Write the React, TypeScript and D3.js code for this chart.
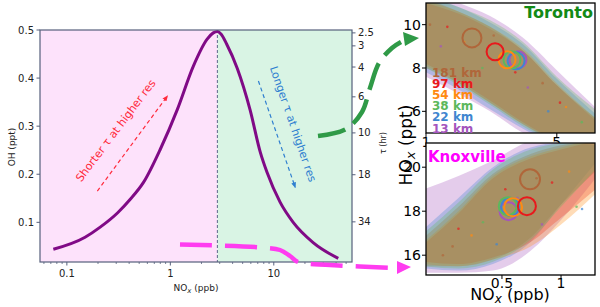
import * as d3 from "d3";

const FONT = "DejaVu Sans, sans-serif";

// ---- left panel: OH against NOx ----
const noxVals = [0.074, 0.15, 0.21, 0.31, 0.41, 0.55, 0.8, 1.17, 1.67, 2.27, 2.6, 2.85, 3.1, 3.5, 4.44, 5.9, 7.4, 8.6, 11.5, 15.4, 24, 42];
const ohVals = [0.044, 0.069, 0.09, 0.12, 0.148, 0.183, 0.252, 0.335, 0.425, 0.481, 0.494, 0.497, 0.491, 0.471, 0.42, 0.334, 0.246, 0.204, 0.142, 0.1, 0.058, 0.025];
const noxSplit = 2.85;
const ohTicks = [0.1, 0.2, 0.3, 0.4, 0.5];
const noxTicks = [0.1, 1, 10];
const noxMinor = [0.06, 0.07, 0.08, 0.09, 0.2, 0.3, 0.4, 0.5, 0.6, 0.7, 0.8, 0.9, 2, 3, 4, 5, 6, 7, 8, 9, 20, 30, 40, 50];
const tauLabels = ["2.5", "3", "4", "6", "10", "18", "34"];
const tauAtOH = [0.494, 0.467, 0.423, 0.361, 0.286, 0.199, 0.101];

// ---- right panels: HOx against NOx by resolution ----
const resLabels = ["181 km", "97 km", "54 km", "38 km", "22 km", "13 km"];
const resColors = ["#b0663a", "#e8191c", "#ff8a12", "#5cb85c", "#3f86d0", "#a455bd"];
const drawOrder = [5, 4, 1, 2, 0, 3];

const torGrid = [1, 1.5, 2.2, 3.3, 5, 8];
const torUpper = [
  [11.2, 10.6, 9.9, 8.8, 7.2, 5.7],
  [11.0, 10.5, 9.8, 8.8, 7.2, 5.6],
  [11.1, 10.6, 9.9, 8.9, 7.3, 5.7],
  [11.3, 10.8, 10.2, 9.2, 7.6, 6.1],
  [11.3, 10.8, 10.1, 9.1, 7.5, 5.9],
  [11.5, 11.0, 10.4, 9.4, 7.9, 6.2],
];
const torLower = [
  [8.0, 7.3, 6.4, 5.4, 4.5, 3.5],
  [8.2, 7.4, 6.5, 5.5, 4.6, 3.6],
  [8.1, 7.3, 6.4, 5.4, 4.6, 3.6],
  [8.0, 7.2, 6.3, 5.3, 4.5, 3.5],
  [7.8, 7.0, 6.1, 5.2, 4.4, 3.4],
  [7.6, 6.8, 6.0, 5.0, 4.3, 3.3],
];
const torMeanNox = [1.76, 2.34, 2.71, 2.88, 3.03, 3.1];
const torMeanHox = [9.39, 8.75, 8.38, 8.38, 8.33, 8.38];
const torDotNox = [1.05, 1.3, 1.6, 2.0, 2.6, 3.5, 4.2, 5.2, 5.6, 6.8, 4.5, 1.2, 2.3, 3.0];
const torDotHox = [10.0, 9.9, 9.2, 8.0, 8.6, 7.1, 7.3, 6.4, 6.2, 5.5, 6.0, 9.0, 9.5, 7.8];

const knxGrid = [0.2, 0.3, 0.45, 0.7, 1.0, 1.5];
const knxUpper = [
  [16.8, 18.2, 19.7, 20.6, 21.0, 21.2],
  [16.5, 17.9, 19.5, 20.4, 20.8, 21.2],
  [16.6, 18.0, 19.6, 20.5, 20.9, 21.3],
  [17.0, 18.4, 19.9, 20.8, 21.1, 21.2],
  [17.2, 18.6, 20.0, 20.9, 21.1, 21.0],
  [19.0, 19.6, 20.3, 21.2, 21.4, 21.5],
];
const knxLower = [
  [15.5, 15.5, 15.8, 16.8, 18.3, 19.8],
  [15.7, 15.6, 15.9, 16.6, 17.7, 19.0],
  [15.6, 15.5, 15.8, 16.4, 17.4, 18.8],
  [15.5, 15.4, 15.7, 16.7, 18.2, 19.9],
  [15.4, 15.3, 15.6, 16.6, 18.3, 20.2],
  [15.2, 15.2, 15.3, 16.2, 17.6, 19.5],
];
const knxMeanNox = [0.695, 0.67, 0.57, 0.535, 0.55, 0.54];
const knxMeanHox = [19.45, 18.23, 18.18, 18.23, 18.2, 18.0];
const knxDotNox = [0.25, 0.3, 0.35, 0.4, 0.47, 0.6, 0.75, 0.9, 1.1, 1.2, 1.28, 0.8, 0.28, 0.52];
const knxDotHox = [16.0, 17.2, 16.9, 17.5, 16.5, 18.6, 19.5, 19.3, 19.8, 18.2, 18.1, 17.4, 16.4, 19.0];

type PanelProps = {
  id: string;
  x: d3.ScaleLogarithmic<number, number>;
  y: d3.ScaleLinear<number, number>;
  grid: number[];
  upper: number[][];
  lower: number[][];
  meanX: number[];
  meanY: number[];
  dotX: number[];
  dotY: number[];
  xTicks: number[];
  yTicks: number[];
  ringR: number;
};

function Panel(p: PanelProps) {
  const [x0, x1] = p.x.range();
  const [y0, y1] = p.y.range();
  return (
    <g>
      <defs>
        <clipPath id={p.id}>
          <rect x={x0} y={y1} width={x1 - x0} height={y0 - y1} />
        </clipPath>
      </defs>
      <rect x={x0} y={y1} width={x1 - x0} height={y0 - y1} fill="#fff" />
      <g clipPath={`url(#${p.id})`}>
        {drawOrder.map((k) => {
          const a = d3
            .area<number>()
            .x((d) => p.x(d))
            .y0((_, i) => p.y(p.lower[k][i]))
            .y1((_, i) => p.y(p.upper[k][i]))
            .curve(d3.curveMonotoneX);
          return <path key={k} d={a(p.grid) || ""} fill={resColors[k]} fillOpacity={0.3} />;
        })}
        {p.dotX.map((v, i) => (
          <circle key={"d" + i} cx={p.x(v)} cy={p.y(p.dotY[i])} r={1.3} fill={resColors[i % 6]} opacity={0.7} />
        ))}
        {[5, 4, 3, 2, 1, 0].map((k) => (
          <circle
            key={"m" + k}
            cx={p.x(p.meanX[k])}
            cy={p.y(p.meanY[k])}
            r={k === 0 ? p.ringR + 1 : p.ringR}
            fill="none"
            stroke={resColors[k]}
            strokeWidth={2}
          />
        ))}
      </g>
      {p.xTicks.map((t) => (
        <line key={"xt" + t} x1={p.x(t)} x2={p.x(t)} y1={y0} y2={y0 + 4} stroke="#000" strokeWidth={1} />
      ))}
      {p.yTicks.map((t) => (
        <g key={"yt" + t}>
          <line x1={x0 - 4} x2={x0} y1={p.y(t)} y2={p.y(t)} stroke="#000" strokeWidth={1} />
          <text x={x0 - 5} y={p.y(t)} dy="0.36em" textAnchor="end" fontSize={14} fontFamily={FONT}>
            {t}
          </text>
        </g>
      ))}
      <rect x={x0} y={y1} width={x1 - x0} height={y0 - y1} fill="none" stroke="#000" strokeWidth={1.3} />
    </g>
  );
}

export default function App() {
  const xL = d3.scaleLog().domain([0.055, 57]).range([40, 352]);
  const yL = d3.scaleLinear().domain([0.0175, 0.5]).range([262, 30]);
  const line = d3
    .line<number>()
    .x((d) => xL(d))
    .y((_, i) => yL(ohVals[i]))
    .curve(d3.curveMonotoneX);

  const xT = d3.scaleLog().domain([1, 8]).range([426, 595]);
  const yT = d3.scaleLinear().domain([5, 11]).range([133, 3]);
  const xK = d3.scaleLog().domain([0.205, 1.49]).range([426, 595]);
  const yK = d3.scaleLinear().domain([15.1, 21.1]).range([275, 143]);

  const xs = xL(noxSplit);
  const spine = "#56607c";

  // annotation arrows (NOx, OH)
  const redFrom = [0.197, 0.165], redTo = [0.935, 0.3625];
  const blueFrom = [7.1, 0.394], blueTo = [16.1, 0.173];

  const green = "#2f9a47";
  const magenta = "#ff3cf0";
  const greenPts: [number, number][] = [[318, 136], [346, 129], [362, 112], [370, 88], [379, 63], [392, 48], [401, 42]];
  const magPts: [number, number][] = [[180, 244.5], [262, 247.5], [280, 250], [290, 256], [298, 262], [330, 265], [396, 268]];
  const curvy = d3.line().curve(d3.curveCatmullRom.alpha(0.5));

  return (
    <svg width={600} height={307} style={{ position: "fixed", left: 0, top: 0, background: "#fff" }} fontFamily={FONT}>
      <defs>
        <marker id="ahRed" viewBox="0 0 10 10" refX={8} refY={5} markerWidth={5} markerHeight={5} orient="auto">
          <path d="M0,1 L10,5 L0,9 z" fill="#ff2a3c" />
        </marker>
        <marker id="ahBlue" viewBox="0 0 10 10" refX={8} refY={5} markerWidth={5} markerHeight={5} orient="auto">
          <path d="M0,1 L10,5 L0,9 z" fill="#2f7fd0" />
        </marker>
      </defs>

      {/* left panel */}
      <rect x={40} y={30} width={xs - 40} height={232} fill="#fde2fb" />
      <rect x={xs} y={30} width={352 - xs} height={232} fill="#d9f4e4" />
      <line x1={xs} x2={xs} y1={30} y2={262} stroke="#3a4470" strokeWidth={0.8} strokeDasharray="3,2" />
      <path d={line(noxVals) || ""} fill="none" stroke="#800a86" strokeWidth={3} />

      <line x1={xL(redFrom[0])} y1={yL(redFrom[1])} x2={xL(redTo[0])} y2={yL(redTo[1])} stroke="#ff2a3c" strokeWidth={1.2} strokeDasharray="4,3" markerEnd="url(#ahRed)" />
      <line x1={xL(blueFrom[0])} y1={yL(blueFrom[1])} x2={xL(blueTo[0])} y2={yL(blueTo[1])} stroke="#2f7fd0" strokeWidth={1.2} strokeDasharray="4,3" markerEnd="url(#ahBlue)" />
      <text transform={`translate(${xL(0.3)},${yL(0.29)}) rotate(-53)`} textAnchor="middle" dominantBaseline="middle" fontSize={11} fill="#ff2a3c">
        Shorter τ at higher res
      </text>
      <text transform={`translate(${xL(15.1)},${yL(0.304)}) rotate(71)`} textAnchor="middle" dominantBaseline="middle" fontSize={11} fill="#2f7fd0">
        Longer τ at higher res
      </text>

      <rect x={40} y={30} width={312} height={232} fill="none" stroke={spine} strokeWidth={1.2} />
      {ohTicks.map((t) => (
        <g key={"oh" + t}>
          <line x1={36.5} x2={40} y1={yL(t)} y2={yL(t)} stroke={spine} />
          <text x={34} y={yL(t)} dy="0.36em" textAnchor="end" fontSize={10} fill="#222">
            {t}
          </text>
        </g>
      ))}
      {noxTicks.map((t) => (
        <g key={"nx" + t}>
          <line x1={xL(t)} x2={xL(t)} y1={262} y2={265.5} stroke={spine} />
          <text x={xL(t)} y={277} textAnchor="middle" fontSize={10} fill="#222">
            {t}
          </text>
        </g>
      ))}
      {noxMinor.map((t) => (
        <line key={"mn" + t} x1={xL(t)} x2={xL(t)} y1={262} y2={264} stroke={spine} strokeWidth={0.8} />
      ))}
      {tauLabels.map((t, i) => (
        <g key={"tau" + t}>
          <line x1={352} x2={355.5} y1={yL(tauAtOH[i])} y2={yL(tauAtOH[i])} stroke={spine} />
          <text x={358} y={yL(tauAtOH[i])} dy="0.36em" fontSize={10} fill="#222">
            {t}
          </text>
        </g>
      ))}
      <text transform="translate(12,147) rotate(-90)" textAnchor="middle" dominantBaseline="middle" fontSize={9} fill="#222">
        OH (ppt)
      </text>
      <text x={196} y={291} textAnchor="middle" fontSize={9} fill="#222">
        NO<tspan fontStyle="italic" fontSize={7} dy={2}>x</tspan>
        <tspan dy={-2}> (ppb)</tspan>
      </text>
      <text transform="translate(383,143) rotate(-90)" textAnchor="middle" dominantBaseline="middle" fontSize={8} fill="#222">
        τ (hr)
      </text>

      {/* right panels */}
      <Panel
        id="tor"
        x={xT}
        y={yT}
        grid={torGrid}
        upper={torUpper}
        lower={torLower}
        meanX={torMeanNox}
        meanY={torMeanHox}
        dotX={torDotNox}
        dotY={torDotHox}
        xTicks={[1, 5]}
        yTicks={[6, 8, 10]}
        ringR={8.5}
      />
      {[1, 5].map((t) => (
        <text key={"tx" + t} x={xT(t)} y={147} textAnchor="middle" fontSize={14}>
          {t}
        </text>
      ))}
      <text x={593} y={18} textAnchor="end" fontSize={16} fontWeight="bold" fill="#138a16">
        Toronto
      </text>
      {resLabels.map((l, i) => (
        <text key={l} x={432} y={76.5 + i * 11.2} fontSize={12} fontWeight="bold" fill={resColors[i]}>
          {l}
        </text>
      ))}

      <Panel
        id="knx"
        x={xK}
        y={yK}
        grid={knxGrid}
        upper={knxUpper}
        lower={knxLower}
        meanX={knxMeanNox}
        meanY={knxMeanHox}
        dotX={knxDotNox}
        dotY={knxDotHox}
        xTicks={[0.5, 1]}
        yTicks={[16, 18, 20]}
        ringR={9}
      />
      {[0.5, 1].map((t) => (
        <text key={"kx" + t} x={xK(t)} y={288} textAnchor="middle" fontSize={14}>
          {t}
        </text>
      ))}
      <text x={428} y={162} fontSize={15} fontWeight="bold" fill="#ff00ff">
        Knoxville
      </text>

      <text transform="translate(412,145) rotate(-90)" textAnchor="middle" fontSize={17}>
        HO<tspan fontStyle="italic" fontSize={13} dy={3}>x</tspan>
        <tspan dy={-3}> (ppt)</tspan>
      </text>
      <text x={510} y={300} textAnchor="middle" fontSize={16}>
        NO<tspan fontStyle="italic" fontSize={12} dy={3}>x</tspan>
        <tspan dy={-3}> (ppb)</tspan>
      </text>

      {/* connecting arrows */}
      <path d={curvy(greenPts) || ""} fill="none" stroke={green} strokeWidth={4.5} strokeDasharray="28,10" />
      <polygon points="403,32 419,38 405,46" fill={green} />
      <path d={curvy(magPts) || ""} fill="none" stroke={magenta} strokeWidth={4.5} strokeDasharray="32,13" />
      <polygon points="397,261 411,267 397,274" fill={magenta} />
    </svg>
  );
}
